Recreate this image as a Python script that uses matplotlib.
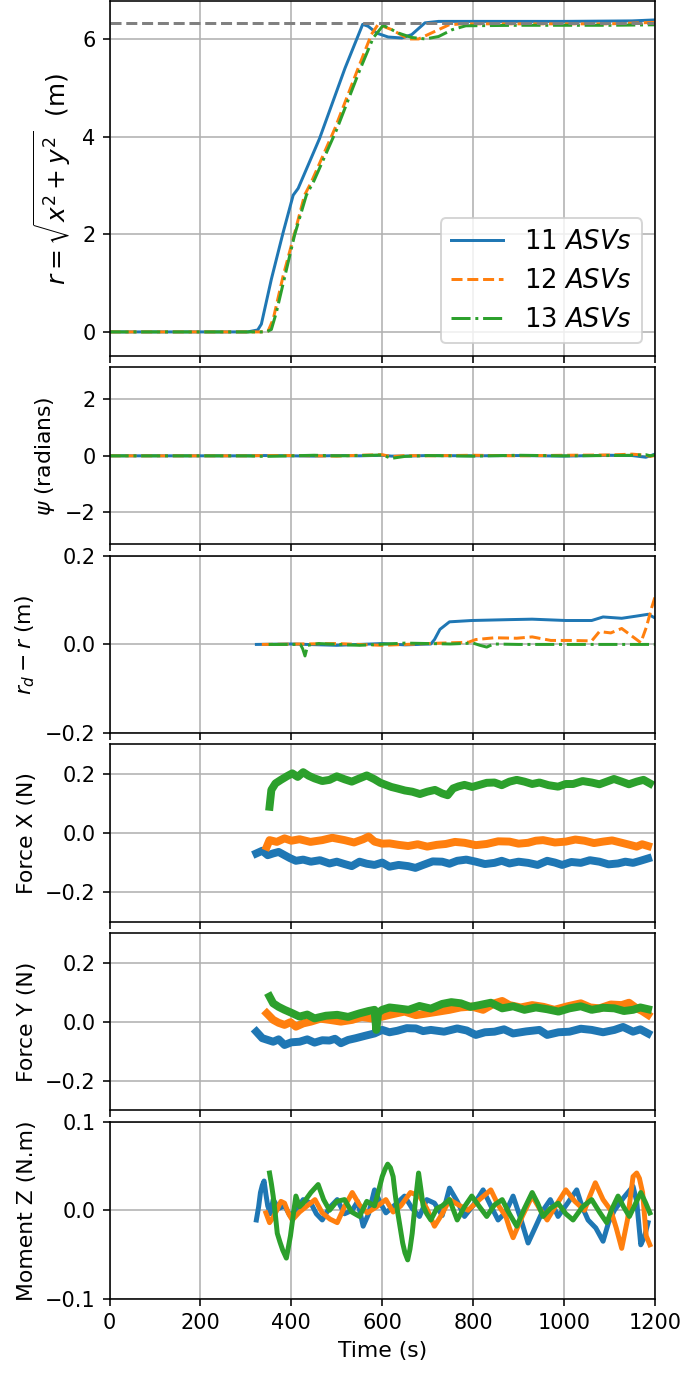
import matplotlib
matplotlib.use('Agg')
import matplotlib.pyplot as plt
import numpy as np

plt.rcParams['font.size'] = 11
plt.rcParams['xtick.labelsize'] = 10.5
plt.rcParams['ytick.labelsize'] = 10.5

labels = ['11 $ASVs$', '12 $ASVs$', '13 $ASVs$']
colors = ['#1f77b4', '#ff7f0e', '#2ca02c']
styles = ['-', '--', '-.']
r_desired = 6.33

# r = sqrt(x^2 + y^2)
r_t11 = [0, 304, 326, 334, 356, 382, 404, 415, 462, 518, 557, 569, 588, 613, 643, 665, 694, 724, 800, 1000, 1150, 1200]
r_v11 = [0, 0, 0.04, 0.16, 1.08, 2.04, 2.80, 2.94, 3.96, 5.40, 6.30, 6.26, 6.12, 6.04, 6.02, 6.09, 6.33, 6.36, 6.36, 6.36, 6.37, 6.39]
r_t12 = [0, 333, 349, 360, 382, 404, 429, 444, 496, 547, 576, 591, 621, 658, 680, 717, 747, 776, 900, 1100, 1200]
r_v12 = [0, 0, 0.02, 0.26, 1.15, 1.91, 2.80, 3.07, 4.17, 5.40, 6.09, 6.30, 6.19, 6.00, 6.00, 6.16, 6.29, 6.31, 6.31, 6.31, 6.34]
r_t13 = [0, 345, 356, 367, 407, 433, 450, 500, 550, 580, 602, 636, 665, 695, 724, 754, 784, 900, 1100, 1200]
r_v13 = [0, 0, 0.05, 0.40, 1.98, 2.80, 3.10, 4.15, 5.35, 6.02, 6.28, 6.12, 6.03, 6.00, 6.05, 6.19, 6.27, 6.28, 6.28, 6.29]

# heading psi
psi_t = [0, 300, 340, 400, 450, 500, 550, 600, 620, 650, 700, 800, 900, 1000, 1100, 1150, 1180, 1190, 1200]
psi_v11 = [0, 0, 0.01, 0, -0.01, 0.01, 0, 0.02, -0.01, -0.01, 0.01, 0, 0.01, -0.01, 0.02, 0.01, -0.05, 0.0, 0.06]
psi_v12 = [0, 0, 0.01, 0.01, 0, -0.01, 0.02, 0.04, -0.03, 0.01, 0, 0.02, 0, 0.02, 0.03, 0.06, 0.02, -0.02, 0.01]
psi_v13 = [0, 0, -0.02, 0, 0.02, 0, 0.01, 0.03, -0.09, -0.02, 0.01, -0.01, 0.02, 0, 0.01, 0.02, 0.04, 0.0, 0.03]

# r_d - r
e_t11 = [323, 400, 500, 600, 650, 707, 715, 727, 748, 797, 880, 930, 1004, 1061, 1086, 1127, 1160, 1185, 1200]
e_v11 = [0, 0.001, -0.002, 0.002, -0.001, 0.001, 0.011, 0.034, 0.051, 0.054, 0.056, 0.057, 0.054, 0.054, 0.062, 0.059, 0.064, 0.068, 0.060]
e_t12 = [335, 420, 500, 600, 700, 790, 806, 847, 896, 930, 971, 1012, 1061, 1078, 1103, 1127, 1144, 1169, 1181, 1193, 1200]
e_v12 = [0, 0.001, 0.002, -0.002, 0.002, 0.005, 0.011, 0.015, 0.014, 0.017, 0.009, 0.009, 0.008, 0.029, 0.026, 0.036, 0.023, 0.004, 0.038, 0.083, 0.106]
e_t13 = [350, 420, 425, 430, 436, 460, 550, 650, 750, 800, 815, 830, 845, 900, 1000, 1100, 1200]
e_v13 = [0, 0, -0.01, -0.026, -0.002, 0.002, -0.002, 0.003, 0.001, 0.003, -0.002, -0.006, 0.001, 0, 0, 0, 0]

# Force X
fx_t11 = [323, 336, 348, 360, 372, 385, 397, 410, 426, 443, 463, 484, 500, 517, 533, 550, 566, 583, 600, 616, 636, 657, 673, 690, 711, 732, 748, 765, 785, 806, 826, 847, 863, 880, 900, 921, 942, 963, 980, 996, 1016, 1037, 1057, 1078, 1098, 1119, 1135, 1152, 1168, 1185]
fx_v11 = [-0.069, -0.060, -0.075, -0.069, -0.064, -0.075, -0.085, -0.094, -0.090, -0.097, -0.092, -0.103, -0.097, -0.105, -0.112, -0.097, -0.104, -0.108, -0.100, -0.114, -0.108, -0.112, -0.118, -0.108, -0.096, -0.097, -0.104, -0.094, -0.090, -0.097, -0.105, -0.101, -0.094, -0.103, -0.097, -0.101, -0.108, -0.094, -0.100, -0.108, -0.098, -0.101, -0.092, -0.097, -0.106, -0.103, -0.097, -0.101, -0.094, -0.086]
fx_t12 = [346, 352, 368, 385, 400, 418, 442, 468, 490, 517, 538, 558, 570, 583, 600, 616, 636, 657, 678, 699, 720, 740, 760, 781, 806, 830, 855, 880, 900, 921, 938, 954, 980, 1004, 1025, 1045, 1066, 1086, 1106, 1127, 1145, 1160, 1172, 1185]
fx_v12 = [-0.046, -0.024, -0.030, -0.018, -0.026, -0.021, -0.030, -0.024, -0.016, -0.024, -0.032, -0.021, -0.012, -0.029, -0.036, -0.035, -0.040, -0.044, -0.038, -0.046, -0.040, -0.037, -0.030, -0.033, -0.041, -0.037, -0.028, -0.029, -0.036, -0.033, -0.026, -0.024, -0.032, -0.029, -0.022, -0.026, -0.034, -0.029, -0.025, -0.033, -0.040, -0.046, -0.038, -0.044]
fx_t13 = [352, 356, 365, 377, 390, 402, 414, 426, 438, 451, 468, 484, 500, 517, 533, 550, 566, 583, 596, 608, 620, 633, 650, 666, 683, 699, 716, 732, 744, 756, 768, 781, 798, 814, 830, 847, 863, 880, 896, 913, 930, 946, 966, 987, 1004, 1020, 1041, 1061, 1078, 1094, 1110, 1127, 1143, 1160, 1175, 1189]
fx_v13 = [0.089, 0.146, 0.168, 0.180, 0.192, 0.202, 0.190, 0.206, 0.194, 0.185, 0.176, 0.180, 0.192, 0.182, 0.174, 0.185, 0.195, 0.182, 0.170, 0.163, 0.156, 0.151, 0.144, 0.140, 0.132, 0.140, 0.146, 0.134, 0.128, 0.151, 0.158, 0.163, 0.156, 0.163, 0.170, 0.171, 0.162, 0.174, 0.180, 0.174, 0.166, 0.171, 0.162, 0.157, 0.166, 0.166, 0.176, 0.171, 0.165, 0.174, 0.183, 0.174, 0.165, 0.174, 0.180, 0.168]

# Force Y
fy_t11 = [323, 336, 348, 360, 372, 385, 400, 418, 435, 451, 468, 484, 496, 509, 525, 542, 562, 583, 600, 616, 633, 654, 674, 690, 707, 736, 765, 786, 806, 826, 847, 868, 888, 917, 946, 963, 988, 1012, 1037, 1061, 1086, 1111, 1130, 1152, 1168, 1185]
fy_v11 = [-0.034, -0.056, -0.062, -0.068, -0.060, -0.079, -0.070, -0.068, -0.060, -0.071, -0.063, -0.064, -0.058, -0.073, -0.062, -0.056, -0.048, -0.040, -0.028, -0.036, -0.031, -0.022, -0.023, -0.032, -0.028, -0.034, -0.023, -0.030, -0.045, -0.036, -0.034, -0.026, -0.040, -0.033, -0.028, -0.045, -0.036, -0.034, -0.024, -0.028, -0.036, -0.028, -0.018, -0.034, -0.026, -0.040]
fy_t12 = [346, 360, 372, 385, 398, 410, 426, 443, 464, 484, 509, 534, 555, 575, 600, 625, 649, 674, 699, 724, 748, 772, 797, 822, 847, 864, 880, 905, 930, 955, 979, 1008, 1037, 1058, 1078, 1103, 1127, 1143, 1160, 1172, 1185]
fy_v12 = [0.028, 0.006, -0.004, -0.011, -0.002, -0.017, -0.006, 0.0, 0.010, 0.006, 0.000, 0.006, 0.016, 0.011, 0.017, 0.026, 0.034, 0.022, 0.028, 0.034, 0.040, 0.048, 0.051, 0.040, 0.062, 0.070, 0.056, 0.048, 0.056, 0.050, 0.040, 0.052, 0.062, 0.048, 0.045, 0.058, 0.056, 0.064, 0.045, 0.036, 0.023]
fy_t13 = [352, 360, 372, 385, 400, 418, 435, 451, 476, 501, 525, 550, 570, 583, 587, 591, 600, 616, 633, 658, 682, 707, 732, 752, 773, 794, 814, 839, 864, 888, 913, 938, 963, 988, 1012, 1037, 1061, 1086, 1111, 1132, 1152, 1168, 1185]
fy_v13 = [0.085, 0.062, 0.050, 0.040, 0.030, 0.017, 0.024, 0.011, 0.020, 0.023, 0.016, 0.028, 0.036, 0.040, -0.028, 0.030, 0.040, 0.048, 0.045, 0.040, 0.053, 0.044, 0.060, 0.066, 0.062, 0.050, 0.056, 0.064, 0.045, 0.052, 0.040, 0.048, 0.042, 0.034, 0.045, 0.052, 0.040, 0.047, 0.045, 0.036, 0.040, 0.048, 0.042]

# Moment Z
mz_t11 = [323, 328, 332, 336, 340, 344, 348, 354, 360, 372, 385, 397, 410, 426, 443, 455, 468, 484, 501, 517, 534, 546, 558, 570, 583, 596, 608, 628, 649, 666, 682, 698, 715, 732, 748, 765, 781, 801, 822, 838, 855, 872, 888, 905, 921, 938, 954, 970, 987, 1008, 1028, 1040, 1053, 1070, 1086, 1098, 1111, 1131, 1152, 1160, 1169, 1177, 1185]
mz_v11 = [-0.011, 0.004, 0.020, 0.028, 0.033, 0.018, 0.005, -0.004, 0.012, 0.002, 0.005, -0.006, 0.0, 0.012, 0.008, -0.004, -0.011, 0.003, 0.012, -0.004, 0.0, 0.010, -0.018, -0.004, 0.023, 0.008, -0.003, 0.006, 0.016, 0.002, -0.007, 0.012, 0.008, -0.006, 0.025, 0.010, -0.007, 0.006, 0.023, 0.006, -0.011, -0.002, 0.016, -0.010, -0.037, -0.018, 0.0, 0.012, -0.007, 0.008, 0.023, 0.004, -0.011, -0.020, -0.035, -0.014, 0.0, 0.014, 0.027, 0.010, -0.039, -0.030, -0.014]
mz_t12 = [344, 352, 360, 368, 377, 385, 394, 402, 418, 435, 452, 468, 485, 501, 517, 534, 550, 567, 588, 608, 624, 641, 662, 682, 698, 715, 732, 748, 768, 789, 814, 839, 855, 872, 880, 888, 909, 930, 946, 963, 983, 1004, 1024, 1045, 1057, 1069, 1086, 1103, 1115, 1127, 1140, 1152, 1160, 1166, 1173, 1181, 1189]
mz_v12 = [-0.003, -0.014, -0.008, 0.0, 0.010, 0.008, -0.004, -0.011, -0.002, 0.005, 0.012, -0.003, -0.010, -0.014, 0.004, 0.020, 0.006, -0.003, 0.004, 0.012, -0.002, 0.005, 0.020, 0.016, 0.002, -0.018, -0.004, 0.012, 0.006, 0.0, 0.012, 0.023, 0.006, -0.007, -0.020, -0.031, -0.006, 0.016, 0.002, -0.011, 0.006, 0.023, 0.010, 0.0, 0.016, 0.031, 0.012, 0.0, -0.020, -0.043, -0.010, 0.038, 0.042, 0.036, 0.020, -0.029, -0.039]
mz_t13 = [352, 356, 360, 365, 369, 375, 381, 389, 398, 404, 410, 418, 426, 443, 459, 471, 484, 500, 517, 533, 550, 566, 583, 592, 600, 606, 612, 618, 624, 628, 633, 639, 645, 650, 656, 661, 666, 673, 680, 685, 690, 698, 707, 720, 732, 748, 765, 781, 797, 814, 830, 847, 864, 880, 896, 913, 930, 942, 954, 970, 987, 1004, 1020, 1041, 1061, 1078, 1094, 1106, 1119, 1131, 1144, 1156, 1169, 1180, 1189]
mz_v13 = [0.042, 0.030, 0.016, -0.006, -0.026, -0.036, -0.045, -0.054, -0.029, -0.006, 0.016, 0.004, 0.008, 0.020, 0.029, 0.012, 0.0, 0.010, 0.012, -0.002, -0.007, 0.010, 0.005, 0.022, 0.038, 0.046, 0.052, 0.048, 0.038, 0.020, 0.001, -0.018, -0.037, -0.048, -0.056, -0.044, -0.026, 0.010, 0.042, 0.024, 0.005, -0.004, -0.011, 0.002, 0.005, 0.012, -0.011, 0.004, 0.016, 0.004, -0.007, 0.006, 0.012, -0.004, -0.018, 0.002, 0.020, 0.008, -0.007, 0.002, 0.008, -0.004, -0.011, 0.004, 0.012, -0.002, -0.014, 0.002, 0.016, 0.004, -0.007, 0.006, 0.020, 0.008, -0.003]

fig = plt.figure(figsize=(685 / 143, 1373 / 143), dpi=143)
gs = fig.add_gridspec(6, 1, height_ratios=[2, 1, 1, 1, 1, 1], hspace=0.055,
                      left=0.160, right=0.956, top=0.999, bottom=0.054)
axes = [fig.add_subplot(gs[0])]
for i in range(1, 6):
    axes.append(fig.add_subplot(gs[i], sharex=axes[0]))

# panel 1
ax = axes[0]
for t, v, c, s, lab in zip([r_t11, r_t12, r_t13], [r_v11, r_v12, r_v13], colors, styles, labels):
    ax.plot(t, v, color=c, linestyle=s, label=lab, lw=1.5)
ax.axhline(r_desired, color='gray', linestyle='--', lw=1.5)
ax.set_ylim(-0.49, 6.77)
ax.set_yticks([0, 2, 4, 6])
ax.set_ylabel(r'$r = \sqrt{x^2 + y^2}\ $ (m)', fontsize=12.5)
ax.legend(loc='lower right', fontsize=13)

# panel 2
ax = axes[1]
for v, c, s in zip([psi_v11, psi_v12, psi_v13], colors, styles):
    ax.plot(psi_t, v, color=c, linestyle=s, lw=1.5)
ax.set_ylim(-np.pi, np.pi)
ax.set_ylabel(r'$\psi$ (radians)')

# panel 3
ax = axes[2]
for t, v, c, s in zip([e_t11, e_t12, e_t13], [e_v11, e_v12, e_v13], colors, styles):
    ax.plot(t, v, color=c, linestyle=s, lw=1.5)
ax.set_ylim(-0.2, 0.2)
ax.set_yticks([-0.2, 0.0, 0.2])
ax.set_ylabel(r'$r_d - r$ (m)')

# panel 4
ax = axes[3]
for t, v, c in zip([fx_t11, fx_t12, fx_t13], [fx_v11, fx_v12, fx_v13], colors):
    ax.plot(t, v, color=c, lw=4)
ax.set_ylim(-0.3, 0.3)
ax.set_yticks([-0.2, 0.0, 0.2])
ax.set_ylabel('Force X (N)')

# panel 5
ax = axes[4]
for t, v, c in zip([fy_t11, fy_t12, fy_t13], [fy_v11, fy_v12, fy_v13], colors):
    ax.plot(t, v, color=c, lw=4)
ax.set_ylim(-0.3, 0.3)
ax.set_yticks([-0.2, 0.0, 0.2])
ax.set_ylabel('Force Y (N)')

# panel 6
ax = axes[5]
for t, v, c in zip([mz_t11, mz_t12, mz_t13], [mz_v11, mz_v12, mz_v13], colors):
    ax.plot(t, v, color=c, lw=2.5)
ax.set_ylim(-0.1, 0.1)
ax.set_yticks([-0.1, 0.0, 0.1])
ax.set_ylabel('Moment Z (N.m)')
ax.set_xlabel('Time (s)')

for ax in axes:
    ax.grid(True)
    ax.set_xlim(0, 1200)
    ax.set_xticks(range(0, 1201, 200))
for ax in axes[:-1]:
    ax.tick_params(labelbottom=False)

fig.savefig('out.png', dpi=143)
